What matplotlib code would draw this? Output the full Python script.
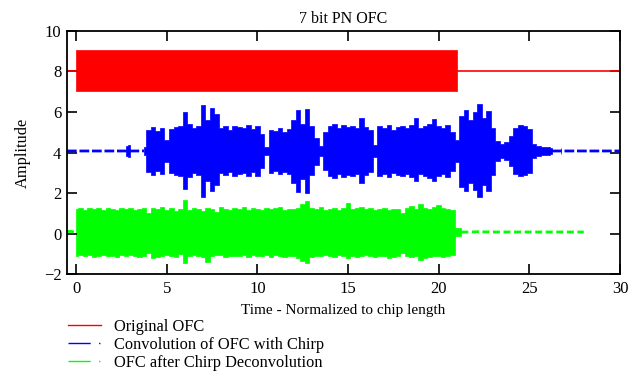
import numpy as np
import matplotlib
matplotlib.use('Agg')
import matplotlib.pyplot as plt
from matplotlib.lines import Line2D

plt.rcParams['font.family'] = ['Liberation Serif', 'DejaVu Serif']
plt.rcParams['font.size'] = 11.5

title = '7 bit PN OFC'
xlabel = 'Time - Normalized to chip length'
ylabel = 'Amplitude'
labels = ['Original OFC', 'Convolution of OFC with Chirp', 'OFC after Chirp Deconvolution']
xticks = [0, 5, 10, 15, 20, 25, 30]
yticks = [-2, 0, 2, 4, 6, 8, 10]

# original OFC: dense oscillation between 7 and 9, flat at 8 outside
red_x = [-0.5, 0.0, 0.0, 21.0, 21.0, 30.0]
red_hi = [8.0, 8.0, 9.05, 9.05, 8.0, 8.0]
red_lo = [8.0, 8.0, 7.03, 7.03, 8.0, 8.0]

# convolution with chirp: upper / lower envelope every 0.25 chip
blue_x = np.arange(-0.5, 30.001, 0.25)
blue_hi = [4.15, 4.15,
           4.15, 4.14, 4.16, 4.15,  4.16, 4.15, 4.17, 4.16,
           4.17, 4.18, 4.20, 4.30,  4.35, 4.22, 4.20, 4.28,
           5.10, 5.25, 5.05, 5.20,  4.60, 5.15, 5.25, 5.30,
           6.00, 5.40, 5.20, 5.30,  6.35, 5.60, 6.20, 5.90,
           5.20, 5.30, 5.10, 5.30,  5.25, 5.20, 5.35, 5.15,
           5.30, 4.90, 4.25, 5.10,  5.05, 5.20, 5.00, 5.15,
           5.60, 6.10, 5.40, 6.15,  5.30, 4.70, 4.30, 5.00,
           5.30, 5.40, 5.20, 5.35,  5.25, 5.30, 5.20, 5.70,
           5.25, 5.10, 4.35, 5.30,  5.20, 5.35, 5.10, 5.25,
           5.30, 5.20, 5.35, 5.70,  5.20, 5.30, 5.40, 5.65,
           5.30, 5.20, 5.35, 5.00,  4.60, 5.80, 6.10, 5.60,
           6.00, 6.40, 5.70, 6.05,  5.20, 4.55, 4.40, 4.50,
           4.80, 5.20, 5.35, 5.30,  5.15, 4.40, 4.30, 4.25,
           4.25, 4.23, 4.22, 4.24,  4.22, 4.20, 4.18, 4.16,
           4.15, 4.16, 4.15, 4.15,  4.15, 4.14, 4.15, 4.15,
           4.15]
blue_lo = [4.00, 4.00,
           4.00, 4.01, 3.99, 4.00,  3.99, 4.00, 3.98, 3.99,
           3.98, 3.97, 3.95, 3.85,  3.80, 3.93, 3.95, 3.88,
           3.05, 2.90, 3.10, 2.95,  3.55, 3.00, 2.90, 2.85,
           2.20, 2.80, 3.00, 2.90,  1.80, 2.60, 2.10, 2.40,
           3.00, 2.90, 3.05, 2.85,  2.95, 3.00, 2.85, 3.05,
           2.85, 3.25, 3.90, 3.00,  3.10, 2.95, 3.05, 2.95,
           2.50, 2.05, 2.70, 2.00,  2.90, 3.40, 3.85, 3.15,
           2.85, 2.75, 2.95, 2.80,  2.90, 2.85, 2.95, 2.50,
           2.90, 3.05, 3.80, 2.85,  2.95, 2.80, 3.00, 2.90,
           2.85, 2.95, 2.80, 2.60,  2.95, 2.85, 2.75, 2.60,
           2.85, 2.95, 2.80, 3.10,  3.55, 2.30, 2.10, 2.50,
           2.15, 1.80, 2.40, 2.10,  2.90, 3.60, 3.75, 3.65,
           3.35, 2.95, 2.85, 2.90,  3.00, 3.75, 3.85, 3.90,
           3.90, 3.92, 3.93, 3.91,  3.93, 3.95, 3.97, 3.99,
           4.00, 3.99, 4.00, 4.00,  4.00, 4.01, 4.00, 4.00,
           4.00]

# after deconvolution: upper / lower envelope every 0.25 chip
green_x = np.arange(-0.5, 28.001, 0.25)
green_hi = [0.25, 0.22,
            1.20, 1.25, 1.15, 1.28,  1.20, 1.27, 1.18, 1.25,
            1.22, 1.15, 1.28, 1.20,  1.25, 1.18, 1.22, 1.25,
            1.00, 1.25, 1.20, 1.30,  1.15, 1.25, 1.10, 1.20,
            1.65, 1.15, 1.25, 1.20,  1.10, 1.25, 1.20, 1.05,
            1.30, 1.20, 1.15, 1.25,  1.20, 1.30, 1.18, 1.25,
            1.22, 1.15, 1.28, 1.20,  1.25, 1.30, 1.15, 1.22,
            1.20, 1.28, 1.45, 1.60,  1.25, 1.20, 1.30, 1.15,
            1.22, 1.28, 1.18, 1.25,  1.50, 1.20, 1.25, 1.30,
            1.20, 1.25, 1.18, 1.22,  1.28, 1.15, 1.22, 1.20,
            1.00, 1.25, 1.35, 1.20,  1.45, 1.25, 1.20, 1.30,
            1.40, 1.25, 1.20, 1.15,  0.28, 0.25, 0.22, 0.20,
            0.18, 0.20, 0.14, 0.13,  0.12, 0.13, 0.12, 0.12,
            0.12, 0.13, 0.12, 0.12,  0.12, 0.13, 0.12, 0.12,
            0.12, 0.13, 0.12, 0.12,  0.12, 0.13, 0.12, 0.12,
            0.12]
green_lo = [-0.05, -0.02,
            -1.10, -1.05, -1.12, -1.08,  -1.15, -1.10, -1.08, -1.12,
            -1.10, -1.15, -1.05, -1.12,  -1.08, -1.12, -1.15, -1.10,
            -0.95, -1.20, -1.15, -1.10,  -1.05, -1.12, -1.15, -1.00,
            -1.45, -1.10, -1.05, -1.12,  -1.15, -1.40, -1.10, -1.05,
            -1.08, -1.15, -1.10, -1.12,  -1.10, -1.05, -1.15, -1.08,
            -1.12, -1.10, -1.05, -1.15,  -1.08, -1.12, -1.15, -1.10,
            -1.10, -1.20, -1.35, -1.45,  -1.15, -1.10, -1.12, -1.05,
            -1.10, -1.15, -1.08, -1.12,  -1.20, -1.10, -1.15, -1.12,
            -1.08, -1.10, -1.15, -1.12,  -1.10, -1.20, -1.15, -1.12,
            -0.95, -1.10, -1.15, -1.12,  -1.30, -1.20, -1.15, -1.10,
            -1.12, -1.15, -1.10, -1.08,  -0.12, -0.10, -0.08, -0.05,
            -0.02, 0.00, 0.02, 0.03,  0.03, 0.02, 0.03, 0.03,
            0.03, 0.02, 0.03, 0.03,  0.03, 0.02, 0.03, 0.03,
            0.03, 0.02, 0.03, 0.03,  0.03, 0.02, 0.03, 0.03,
            0.03]


def draw(ax, x, hi, lo, color, tail_lw, tail_dashes, step=None):
    x = np.asarray(x, float)
    hi = np.asarray(hi, float)
    lo = np.asarray(lo, float)
    body = (hi - lo) > 0.3
    ax.fill_between(x, lo, hi, where=body, color=color, lw=0.5,
                    edgecolor=color, step=step)
    tail = ~body
    tail = tail | np.roll(tail, 1) | np.roll(tail, -1)
    mid = np.where(tail, (hi + lo) / 2, np.nan)
    line, = ax.plot(x, mid, color=color, lw=tail_lw)
    if tail_dashes is not None:
        line.set_dashes(tail_dashes)


fig = plt.figure(figsize=(6.29, 3.72), dpi=100)
ax = fig.add_axes([0.1065, 0.2634, 0.8792, 0.6533])

draw(ax, red_x, red_hi, red_lo, '#ff0000', 1.2, None)
draw(ax, blue_x, blue_hi, blue_lo, '#0000ff', 2.0, (3.5, 1.0), step='mid')
draw(ax, green_x, green_hi, green_lo, '#00ff00', 2.0, (2.5, 1.3), step='mid')

ax.set_xlim(-0.5, 30)
ax.set_ylim(-2, 10)
ax.set_xticks(xticks)
ax.set_yticks(yticks)
ax.tick_params(direction='in', length=7, width=1.2, top=True, right=True,
               labelsize=12)
ax.tick_params(axis='x', pad=5)
ax.tick_params(axis='y', pad=4)
for s in ax.spines.values():
    s.set_linewidth(1.3)
ax.set_title(title, pad=6, fontsize=11.5)
ax.set_xlabel(xlabel, labelpad=5, fontsize=11)
ax.set_ylabel(ylabel, labelpad=9, fontsize=11.8)

handles = [Line2D([], [], color='#ff0000', lw=1),
           Line2D([], [], color='#0000ff', lw=1, dashes=(16, 6, 1, 20)),
           Line2D([], [], color='#00ff00', lw=1, dashes=(16, 6, 1, 20))]
fig.legend(handles, labels, loc='upper left', bbox_to_anchor=(0.108, 0.142),
           frameon=False, borderpad=0, borderaxespad=0, handlelength=2.0,
           handletextpad=0.8, labelspacing=0.12, fontsize=11.8)

fig.savefig('out.png', dpi=100)
